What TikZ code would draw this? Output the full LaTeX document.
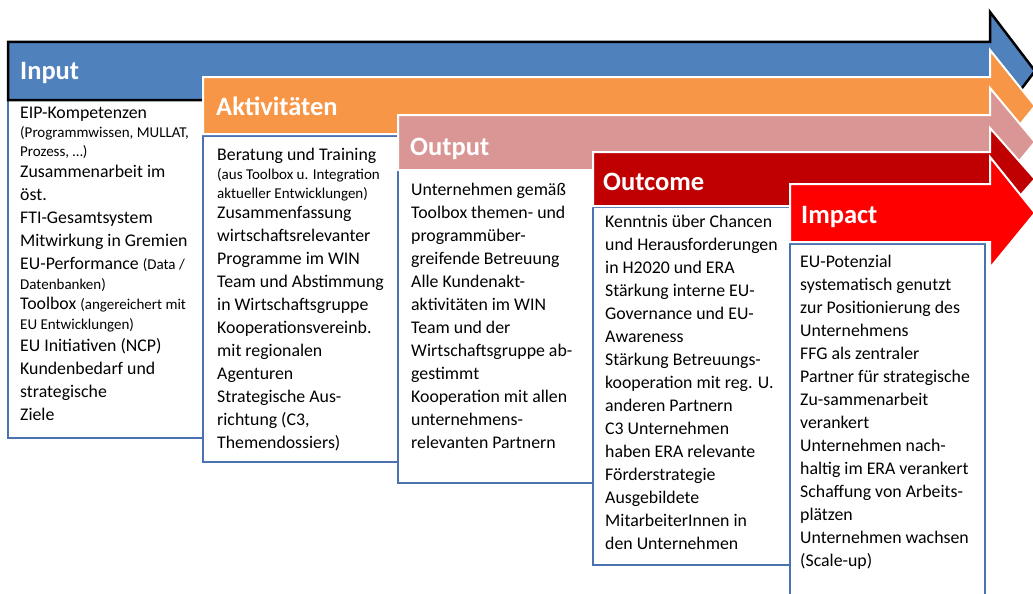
\documentclass[tikz,border=0pt]{standalone}
\usepackage{fontspec}
\setmainfont{Carlito}
\usepackage{tikz}

\definecolor{inblue}{HTML}{4F81BD}
\definecolor{aktorange}{HTML}{F79646}
\definecolor{outpink}{HTML}{D99694}
\definecolor{ocred}{HTML}{C00000}
\definecolor{imred}{HTML}{FF0000}
\definecolor{boxline}{HTML}{4A72B0}

\newcommand{\klein}{\fontsize{15}{17}\selectfont}

\begin{document}
\begin{tikzpicture}[x=1pt,y=-1pt,
                    band/.style={draw=white,line width=2pt,line join=miter},
                    box/.style={draw=boxline,fill=white,line width=1.6pt},
                    head/.style={anchor=base west,inner sep=0pt,text=white,
                                 font=\fontsize{26.5}{30}\selectfont\bfseries},
                    body/.style={anchor=base west,inner sep=0pt,
                                 font=\fontsize{17.8}{23}\selectfont}]
  \useasboundingbox (0,0) rectangle (1033,594);

  % Input
  \draw[box] (8,100) rectangle (205,438);
  \draw[band,fill=inblue,draw=black,line width=2.5pt]
    (8,42) -- (990,42) -- (990,12) -- (1035,71) -- (990,130) -- (990,100) -- (8,100) -- cycle;
  \node[head] (input) at (20,80) {Input};
  \node[body] (inputtxt) at (20,118) {\parbox[t]{200pt}{\raggedright
    EIP-Kompetenzen\\[-4pt]
    {\klein (Programmwissen, MULLAT,}\\[-4pt]
    {\klein Prozess, …)}\\[-2pt]
    Zusammenarbeit im\\
    öst.\\
    FTI-Gesamtsystem\\
    Mitwirkung in Gremien\\
    EU-Performance {\klein (Data /}\\[-3pt]
    {\klein Datenbanken)}\\[-3pt]
    Toolbox {\klein (angereichert mit}\\[-3pt]
    {\klein EU Entwicklungen)}\\[-1pt]
    EU Initiativen (NCP)\\
    Kundenbedarf und\\
    strategische\\
    Ziele}};

  % Aktivitaeten
  \draw[box] (203,136) rectangle (398,462);
  \draw[band,fill=aktorange]
    (203,77) -- (990,77) -- (990,50) -- (1035,106) -- (990,162) -- (990,134) -- (203,134) -- cycle;
  \node[head] (akt) at (216,115) {Aktivitäten};
  \node[body] (akttxt) at (217,160) {\parbox[t]{200pt}{\raggedright
    Beratung und Training\\[-4pt]
    {\klein (aus Toolbox u. Integration}\\[-4pt]
    {\klein aktueller Entwicklungen)}\\[-3pt]
    Zusammenfassung\\
    wirtschaftsrelevanter\\
    Programme im WIN\\
    Team und Abstimmung\\
    in Wirtschaftsgruppe\\
    Kooperationsvereinb.\\
    mit regionalen\\
    Agenturen\\
    Strategische Aus-\\
    richtung (C3,\\
    Themendossiers)}};

  % Output
  \draw[box] (398,170) rectangle (593,483);
  \draw[band,fill=outpink]
    (398,115) -- (990,115) -- (990,88) -- (1035,142) -- (990,197) -- (990,170) -- (398,170) -- cycle;
  \node[head] (output) at (410,155) {Output};
  \node[body] (outputtxt) at (411,195) {\parbox[t]{200pt}{\raggedright
    Unternehmen gemäß\\
    Toolbox themen- und\\
    programmüber-\\
    greifende Betreuung\\
    Alle Kundenakt-\\
    aktivitäten im WIN\\
    Team und der\\
    Wirtschaftsgruppe ab-\\
    gestimmt\\
    Kooperation mit allen\\
    unternehmens-\\
    relevanten Partnern}};

  % Outcome
  \draw[box] (593,207) rectangle (790,565);
  \draw[band,fill=ocred]
    (593,152) -- (990,152) -- (990,128) -- (1035,179) -- (990,230) -- (990,206) -- (593,206) -- cycle;
  \node[head] (outcome) at (603,190) {Outcome};
  \node[body] (outcometxt) at (605,227) {\parbox[t]{200pt}{\raggedright
    Kenntnis über Chancen\\
    und Herausforderungen\\
    in H2020 und ERA\\
    Stärkung interne EU-\\
    Governance und EU-\\
    Awareness\\
    Stärkung Betreuungs-\\
    kooperation mit reg. U.\\
    anderen Partnern\\
    C3 Unternehmen\\
    haben ERA relevante\\
    Förderstrategie\\
    Ausgebildete\\
    MitarbeiterInnen in\\
    den Unternehmen}};

  % Impact
  \draw[box] (790,244) rectangle (985,610);
  \draw[band,fill=imred]
    (790,184) -- (990,184) -- (990,157) -- (1035,213) -- (990,268) -- (990,242) -- (790,242) -- cycle;
  \node[head] (impact) at (801,223) {Impact};
  \node[body] (impacttxt) at (800,267) {\parbox[t]{200pt}{\raggedright
    EU-Potenzial\\
    systematisch genutzt\\
    zur Positionierung des\\
    Unternehmens\\
    FFG als zentraler\\
    Partner für strategische\\
    Zu-sammenarbeit\\
    verankert\\
    Unternehmen nach-\\
    haltig im ERA verankert\\
    Schaffung von Arbeits-\\
    plätzen\\
    Unternehmen wachsen\\
    (Scale-up)}};
\end{tikzpicture}
\end{document}
